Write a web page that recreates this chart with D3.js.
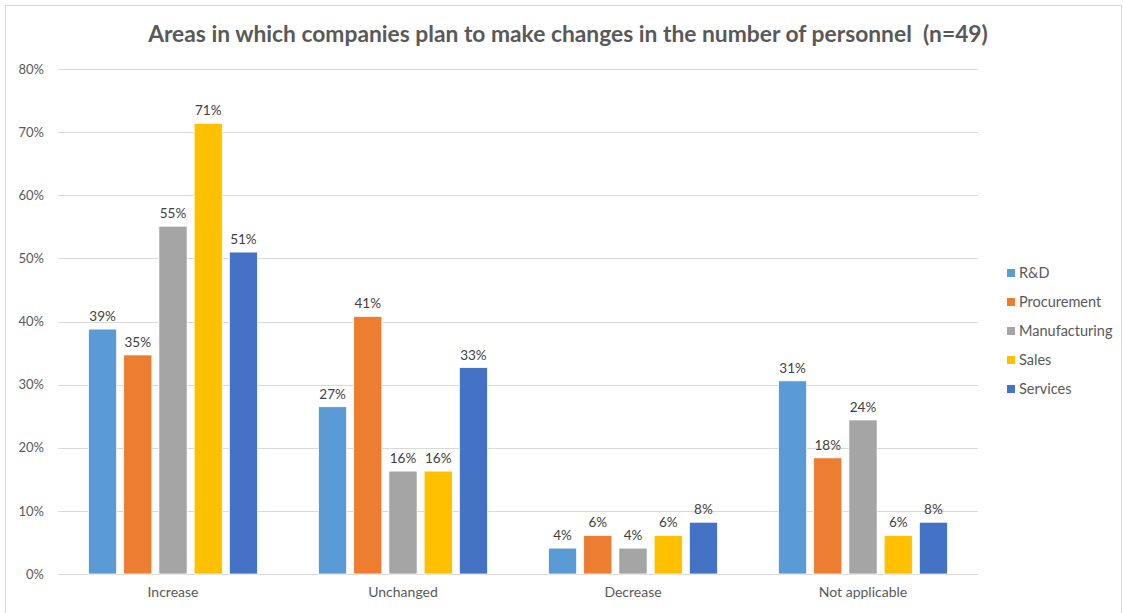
<!DOCTYPE html>
<html>
<head>
<meta charset="utf-8">
<script src="https://cdn.jsdelivr.net/npm/d3@7"></script>
<style>
  body { margin: 0; background: #fff; }
  text { font-family: Lato, "Open Sans", sans-serif; }
</style>
</head>
<body>
<script>
// Chart data (shares of n=49 respondents, in percent)
var categories = ["Increase", "Unchanged", "Decrease", "Not applicable"];
var seriesNames = ["R&D", "Procurement", "Manufacturing", "Sales", "Services"];
var rd            = [38.8, 26.5, 4.1, 30.6];
var procurement   = [34.7, 40.8, 6.1, 18.4];
var manufacturing = [55.1, 16.3, 4.1, 24.4];
var sales         = [71.4, 16.3, 6.1, 6.1];
var services      = [51.0, 32.7, 8.2, 8.2];
var yTicks = [0, 10, 20, 30, 40, 50, 60, 70, 80];
var colors = ["#5B9BD5", "#ED7D31", "#A5A5A5", "#FFC000", "#4472C4"];

var seriesValues = [rd, procurement, manufacturing, sales, services];

var W = 1124, H = 613;
var margin = { top: 69, right: 146, bottom: 39, left: 58 };
var width = W - margin.left - margin.right;
var height = H - margin.top - margin.bottom;

var root = d3.select("body").append("svg")
	.attr("width", W)
	.attr("height", H);

// outer chart frame
root.append("rect")
	.attr("x", 5.5).attr("y", 5.5)
	.attr("width", W - 8).attr("height", H)
	.attr("fill", "#fff")
	.attr("stroke", "#d9d9d9");

// title
root.append("text")
	.attr("x", 568).attr("y", 42)
	.attr("text-anchor", "middle")
	.attr("font-size", "22.8px")
	.attr("font-weight", "bold")
	.attr("fill", "#595959")
	.text("Areas in which companies plan to make changes in the number of personnel\u00a0 (n=49)");

var svg = root.append("g")
	.attr("transform", "translate(" + margin.left + "," + margin.top + ")");

var x0 = d3.scaleBand()
	.domain(categories)
	.range([0, width])
	.paddingInner(0.265)
	.paddingOuter(0.1325);

var x1 = d3.scaleBand()
	.domain(seriesNames)
	.range([0, x0.bandwidth()])
	.paddingInner(0.2)
	.paddingOuter(0);

var y = d3.scaleLinear()
	.domain([0, 80])
	.range([height, 0]);

// gridlines
svg.append("g")
	.selectAll("line")
	.data(yTicks)
	.enter().append("line")
	.attr("x1", 0).attr("x2", width)
	.attr("y1", function(d) { return Math.round(y(d)) + 0.5; })
	.attr("y2", function(d) { return Math.round(y(d)) + 0.5; })
	.attr("stroke", "#d9d9d9")
	.attr("stroke-width", 1);

// y axis labels
var yAxis = d3.axisLeft(y)
	.tickValues(yTicks)
	.tickFormat(function(d) { return d + "%"; })
	.tickSize(0)
	.tickPadding(14);

var gy = svg.append("g").call(yAxis);
gy.select(".domain").remove();
gy.selectAll("text")
	.attr("font-size", "13px")
	.attr("fill", "#595959")
	.attr("font-family", "Lato, 'Open Sans', sans-serif");

// x axis labels
var xAxis = d3.axisBottom(x0).tickSize(0).tickPadding(13);
var gx = svg.append("g")
	.attr("transform", "translate(0," + height + ")")
	.call(xAxis);
gx.select(".domain").remove();
gx.selectAll("text")
	.attr("font-size", "14px")
	.attr("fill", "#595959")
	.attr("font-family", "Lato, 'Open Sans', sans-serif");

// bars
var rows = categories.map(function(c, i) {
	return {
		category: c,
		values: seriesNames.map(function(s, j) {
			return { name: s, value: seriesValues[j][i], color: colors[j] };
		})
	};
});

var groups = svg.selectAll(".group")
	.data(rows)
	.enter().append("g")
	.attr("class", "group")
	.attr("transform", function(d) { return "translate(" + x0(d.category) + ",0)"; });

groups.selectAll("rect")
	.data(function(d) { return d.values; })
	.enter().append("rect")
	.attr("x", function(d) { return x1(d.name); })
	.attr("y", function(d) { return y(d.value); })
	.attr("width", x1.bandwidth())
	.attr("height", function(d) { return height - y(d.value); })
	.attr("fill", function(d) { return d.color; })
	.attr("stroke", "#fff")
	.attr("stroke-width", 0.75);

// data labels
groups.selectAll(".label")
	.data(function(d) { return d.values; })
	.enter().append("text")
	.attr("class", "label")
	.attr("x", function(d) { return x1(d.name) + x1.bandwidth() / 2; })
	.attr("y", function(d) { return y(d.value) - 8; })
	.attr("text-anchor", "middle")
	.attr("font-size", "13.5px")
	.attr("fill", "#404040")
	.text(function(d) { return Math.round(d.value) + "%"; });

// legend
var legend = root.append("g")
	.attr("transform", "translate(1007,273)");

var items = legend.selectAll("g")
	.data(seriesNames)
	.enter().append("g")
	.attr("transform", function(d, i) { return "translate(0," + (i * 29) + ")"; });

items.append("rect")
	.attr("x", 0).attr("y", -4)
	.attr("width", 8).attr("height", 8)
	.attr("fill", function(d, i) { return colors[i]; });

items.append("text")
	.attr("x", 12).attr("y", 0)
	.attr("dy", "0.35em")
	.attr("font-size", "14.5px")
	.attr("fill", "#595959")
	.text(function(d) { return d; });
</script>
</body>
</html>
